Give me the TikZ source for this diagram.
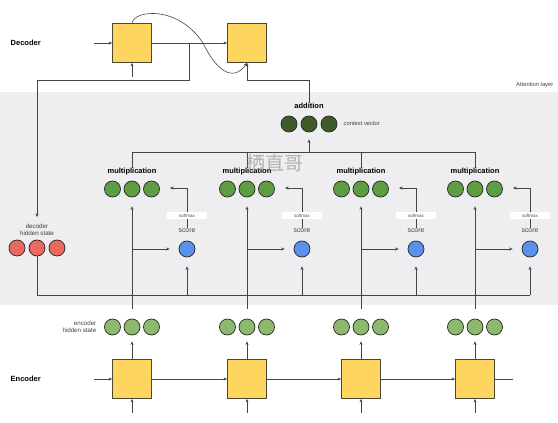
\documentclass[tikz,border=0pt]{standalone}
\usepackage{fontspec}
\setmainfont{Liberation Sans}
\newfontfamily\cjk{Noto Sans CJK SC}
\usetikzlibrary{arrows.meta}
\definecolor{boxfill}{HTML}{FED55F}
\definecolor{boxline}{HTML}{4D4636}
\definecolor{multgreen}{HTML}{5E9E43}
\definecolor{encgreen}{HTML}{8CB96E}
\definecolor{ctxgreen}{HTML}{3E5C2B}
\definecolor{redst}{HTML}{EB695F}
\definecolor{bluesc}{HTML}{5A91EB}
\definecolor{bandgray}{HTML}{EEEEF0}
\definecolor{linegray}{HTML}{444444}
\begin{document}
\begin{tikzpicture}[x=1pt,y=-1pt,
  bold/.style={font=\fontsize{7.5}{8}\selectfont\bfseries, inner sep=0.5pt},
  sml/.style={font=\fontsize{6.2}{7}\selectfont, text=black!75, inner sep=0.5pt, align=center},
  conn/.style={draw=linegray, line width=0.6pt},
  arr/.style={conn, -{Stealth[length=3.5pt,width=3pt]}},
  cellbox/.style={draw=boxline, fill=boxfill, minimum size=39pt, inner sep=0, line width=0.8pt},
  dot/.style={circle, draw=black!85, line width=0.7pt, minimum size=16pt, inner sep=0},
  smbox/.style={fill=white, minimum width=40pt, minimum height=7.5pt, inner sep=0, font=\fontsize{4.5}{5}\selectfont, text=black!70}
]
\useasboundingbox (0,0) rectangle (558,423);
\fill[bandgray] (0,92) rectangle (558,305);

% labels
\node[bold, anchor=west] (declbl) at (10,43) {Decoder};
\node[bold, anchor=west] (enclbl) at (10,379) {Encoder};
\node[sml, anchor=east, font=\fontsize{5.8}{7}\selectfont] (attlbl) at (554,85) {Attention layer};

% decoder
\node[cellbox] (d1) at (132,43) {};
\node[cellbox] (d2) at (247,43) {};
\coordinate (din) at (94,43);
\coordinate (dbot) at (132,77);
\coordinate (br) at (189,43);

% context vector
\node[bold] (addl) at (309,106) {addition};
\node[dot, fill=ctxgreen] (c1) at (289,124) {};
\node[dot, fill=ctxgreen] (c2) at (309,124) {};
\node[dot, fill=ctxgreen] (c3) at (329,124) {};
\node[sml, anchor=west, font=\fontsize{5.8}{7}\selectfont] (cvl) at (343,124) {context vector};

% decoder hidden state
\node[sml] (dhl) at (37,229.5) {decoder\\hidden state};
\node[dot, fill=redst] (h1) at (17,248) {};
\node[dot, fill=redst] (h2) at (37,248) {};
\node[dot, fill=redst] (h3) at (57,248) {};
\coordinate (dhtip) at (37,217);

% encoder hidden label
\node[sml, anchor=east, align=right] (ehl) at (97,327) {encoder\\hidden state};

\foreach \i/\X in {1/132,2/247,3/361,4/475} {
  \node[cellbox] (e\i) at (\X,379) {};
  \node[dot, fill=encgreen] (ea\i) at (\X-19.5,327) {};
  \node[dot, fill=encgreen] (eb\i) at (\X,327) {};
  \node[dot, fill=encgreen] (ec\i) at (\X+19.5,327) {};
  \node[bold] (ml\i) at (\X,172) {multiplication};
  \node[dot, fill=multgreen] (ma\i) at (\X-19.5,189) {};
  \node[dot, fill=multgreen] (mb\i) at (\X,189) {};
  \node[dot, fill=multgreen] (mc\i) at (\X+19.5,189) {};
  \node[sml, font=\fontsize{6.8}{7}\selectfont] (sl\i) at (\X+55,231) {score};
  \node[dot, fill=bluesc] (s\i) at (\X+55,249) {};
  \coordinate (top\i) at (\X,152);
  \coordinate (br\i) at (\X,249);
  \coordinate (sbot\i) at (\X+55,295);
  \coordinate (sup\i) at (\X+55,188);
  \coordinate (stip\i) at (\X+38,188);
  \coordinate (ein\i) at (\X,413);
}
\coordinate (ein0) at (94,379);
\coordinate (eout) at (513,379);
\coordinate (ctop) at (309,152);

% decoder connectors
\draw[arr] (din) -- (d1.west);
\draw[arr] (dbot) -- (d1.south);
\draw[arr] (d1.east) -- (d2.west);
\draw[arr] (br) -- (189,80) -- (37,80) -- (dhtip);
\draw[arr] (d1.north) .. controls (134,10) and (178,5) .. (203,43)
  .. controls (215,68) and (232,84) .. (d2.south);
\draw[arr] (addl.north) -- (309,80) -- (247,80) -- (d2.south);

% multiplication -> context
\draw[conn] (top1) -- (top4);
\foreach \i in {1,2,3,4} { \draw[conn] (top\i) -- (ml\i.north); }
\draw[arr, shorten >=7pt] (ctop) -- (c2.south);

% decoder hidden bottom line
\draw[conn] (h2.south) -- (37,295) -- (sbot4);

\foreach \i in {1,2,3,4} {
  \draw[arr, shorten <=10pt, shorten >=9pt] (eb\i.north) -- (mb\i.south);
  \draw[arr, shorten >=9pt] (br\i) -- (s\i.west);
  \draw[arr, shorten >=9pt] (sbot\i) -- (s\i.south);
  \draw[arr] (sl\i.north) -- (sup\i) -- (stip\i);
  \draw[arr, shorten >=6pt] (e\i.north) -- (eb\i.south);
  \draw[arr] (ein\i) -- (e\i.south);
}
\draw[arr] (ein0) -- (e1.west);
\draw[arr] (e1.east) -- (e2.west);
\draw[arr] (e2.east) -- (e3.west);
\draw[arr] (e3.east) -- (e4.west);
\draw[conn] (e4.east) -- (eout);

% softmax boxes on top of lines
\foreach \i/\X in {1/132,2/247,3/361,4/475} {
  \node[smbox] (sm\i) at (\X+55,215.5) {softmax};
}

% watermark
\node[text=gray, opacity=0.55, font=\cjk\fontsize{19}{20}\selectfont, inner sep=0] (wm) at (275,163) {栖直哥};
\end{tikzpicture}
\end{document}
